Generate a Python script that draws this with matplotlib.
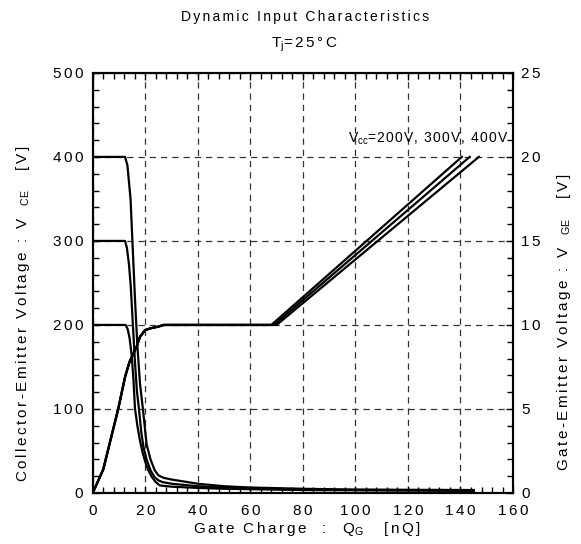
import numpy as np
import matplotlib
matplotlib.use('Agg')
import matplotlib.pyplot as plt
from matplotlib.ticker import MultipleLocator, FuncFormatter

plt.rcParams['font.family'] = ['Liberation Sans', 'DejaVu Sans']
plt.rcParams['mathtext.fontset'] = 'custom'
plt.rcParams['mathtext.rm'] = 'Liberation Sans'

# collector-emitter voltage during turn-on, Vcc = 200 / 300 / 400 V
q_400 = [0, 12.3, 13.2, 14.4, 15.1, 16.1, 17, 18, 19.1, 20.5, 22, 23.6, 25, 27, 30, 40, 50, 60, 80, 100, 145]
vce_400 = [400, 400, 390, 350, 300, 230, 175, 130, 100, 58, 40, 27, 21, 18, 16, 11, 8, 6.5, 5, 4, 3.5]
q_300 = [0, 12.3, 13, 13.8, 14.5, 15.2, 16, 16.8, 17.6, 18.5, 19.3, 20.5, 22, 23.5, 25, 26.5, 30, 40, 50, 60, 80, 145]
vce_300 = [300, 300, 292, 272, 245, 205, 160, 122, 100, 72, 55, 40, 27, 19, 15, 13, 11, 8, 6.5, 5.5, 4, 3]
q_200 = [0, 12.5, 13.3, 14, 14.8, 15.5, 16.1, 17, 18, 19, 20, 21, 22.5, 24, 25.5, 30, 40, 50, 80, 145]
vce_200 = [200, 200, 195, 185, 165, 135, 100, 80, 62, 48, 37, 28, 19, 13, 9, 7.5, 6, 5, 3.5, 2.5]

# gate-emitter voltage
q_ge_rise = [0, 4, 9.7, 12.3, 14, 16.7, 18, 20, 22, 25, 27]
vge_rise = [0, 1.4, 5, 6.9, 7.8, 8.7, 9.3, 9.7, 9.8, 9.9, 10]
plateau_end = [68, 69, 70]
q_ge_end = [140.5, 143.5, 147]
vge_top = 20


def sp(s, gap='\u2006'):
    # the original lettering is widely tracked
    return gap.join(s)


fig = plt.figure(figsize=(5.81, 5.44), dpi=100)
ax = fig.add_axes([0.1596, 0.0938, 0.7234, 0.7722])
ax2 = ax.twinx()

for q, v in [(q_400, vce_400), (q_300, vce_300), (q_200, vce_200)]:
    ax.plot(q, v, color='black', lw=1.6)

for p_end, q_end in zip(plateau_end, q_ge_end):
    qq = q_ge_rise + [p_end, q_end]
    vv = vge_rise + [10, vge_top]
    ax2.plot(qq, vv, color='black', lw=1.6)

ax.set_xlim(0, 160)
ax.set_ylim(0, 500)
ax2.set_ylim(0, 25)

ax.xaxis.set_major_locator(MultipleLocator(20))
ax.xaxis.set_minor_locator(MultipleLocator(4))
ax.yaxis.set_major_locator(MultipleLocator(100))
ax.yaxis.set_minor_locator(MultipleLocator(20))
ax2.yaxis.set_major_locator(MultipleLocator(5))
ax2.yaxis.set_minor_locator(MultipleLocator(1))

fmt = FuncFormatter(lambda v, pos: sp('%d' % v))
ax.xaxis.set_major_formatter(fmt)
ax.yaxis.set_major_formatter(fmt)
ax2.yaxis.set_major_formatter(fmt)

ax.tick_params(which='both', direction='in', top=True, right=False, labelsize=11)
ax.tick_params(axis='x', pad=8)
ax.tick_params(axis='y', pad=7)
ax.tick_params(which='major', length=5, width=1)
ax.tick_params(which='minor', length=4, width=1)
ax2.tick_params(which='both', direction='in', labelsize=11, pad=6)
ax2.tick_params(which='major', length=5, width=1)
ax2.tick_params(which='minor', length=4, width=1)

for a in (ax, ax2):
    for s in a.spines.values():
        s.set_linewidth(1.5)

ax.grid(True, which='major', linestyle=(0, (5, 4)), color='#333333', lw=0.9)

fig.text(307 / 581, 1 - 533 / 544,
         sp('Gate Charge  :  Q') + r'$_{\mathregular{G}}$' + sp('   [nQ]'),
         ha='center', va='baseline', fontsize=11)
fig.text(23 / 581, 1 - 314 / 544,
         sp('Collector-Emitter Voltage : V') + '   ' + r'$_{\mathregular{CE}}$' + sp('   [V]'),
         ha='center', va='center', rotation=90, fontsize=11)
fig.text(564 / 581, 1 - 322 / 544,
         sp('Gate-Emitter Voltage : V') + '   ' + r'$_{\mathregular{GE}}$' + sp('   [V]'),
         ha='center', va='center', rotation=90, fontsize=11)

fig.text(305 / 581, 1 - 17 / 544, sp('Dynamic Input Characteristics'),
         ha='center', va='center', fontsize=10)
fig.text(304 / 581, 1 - 45 / 544, sp('T') + r'$_{\mathregular{j}}$' + sp('=25°C'),
         ha='center', va='center', fontsize=11)

ax.text(158.5, 417, sp('V', '\u200a') + r'$_{\mathregular{cc}}$' + sp('=200V, 300V, 400V', '\u200a'),
        ha='right', va='baseline', fontsize=10)

fig.savefig('out.png', dpi=100)
